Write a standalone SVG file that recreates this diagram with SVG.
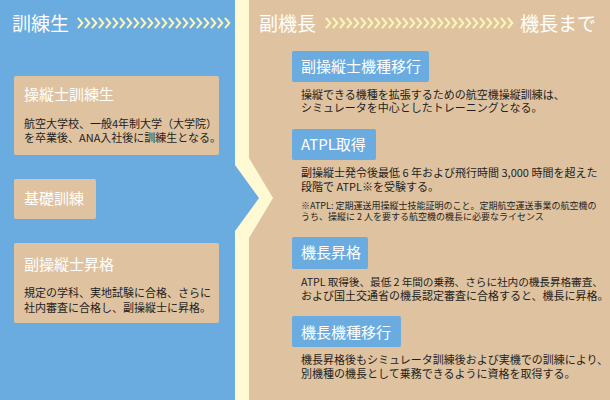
<svg xmlns="http://www.w3.org/2000/svg" width="610" height="400" viewBox="0 0 610 400">
<defs>
<style>
.hd{font-family:"Noto Sans CJK JP","Noto Sans",sans-serif;font-size:19px;fill:#ffffff}
.tt{font-family:"Noto Sans CJK JP","Noto Sans",sans-serif;font-size:15px;fill:#ffffff}
.bd{font-family:"Noto Sans CJK JP","Noto Sans",sans-serif;font-size:11px;fill:#1e1e1e}
.nt{font-family:"Noto Sans CJK JP","Noto Sans",sans-serif;font-size:9px;fill:#1e1e1e}
.tan{fill:#dfc3a0}
.blu{fill:#6aacdf}
</style>
<pattern id="chevL" patternUnits="userSpaceOnUse" x="77" y="17" width="7" height="12">
<polyline points="0.9,0.9 5.3,6 0.9,11.1" fill="none" stroke="#fff5b8" stroke-width="2"/>
</pattern>
<pattern id="chevR" patternUnits="userSpaceOnUse" x="325" y="17" width="7" height="12">
<polyline points="0.9,0.9 5.3,6 0.9,11.1" fill="none" stroke="#fff5b8" stroke-width="2"/>
</pattern>
</defs>
<g id="background">
<rect x="0" y="0" width="610" height="400" fill="#dfc3a0"/>
<path d="M0,0 H249 V158 L273,198 L249,238 V400 H0 Z" fill="#fffad4"/>
<path d="M0,0 H235 V165 L259,198 L235,231 V400 H0 Z" fill="#6aacdf"/>
</g>
<g id="header">
<text class="hd" x="12" y="31">訓練生</text>
<rect x="77" y="17" width="154" height="12" fill="url(#chevL)"/>
<text class="hd" x="259" y="31">副機長</text>
<rect x="325" y="17" width="189" height="12" fill="url(#chevR)"/>
<text class="hd" x="520" y="31">機長まで</text>
</g>
<g id="node-trainee">
<rect class="tan" x="14" y="76" width="205" height="79" rx="2"/>
<text class="tt" x="24" y="100">操縦士訓練生</text>
<text class="bd"><tspan x="24" y="128">航空大学校、一般4年制大学（大学院）</tspan><tspan x="24" y="142">を卒業後、ANA入社後に訓練生となる。</tspan></text>
</g>
<g id="node-basic">
<rect class="tan" x="14" y="179" width="82" height="40" rx="2"/>
<text class="tt" x="24" y="204">基礎訓練</text>
</g>
<g id="node-fo-promotion">
<rect class="tan" x="14" y="243" width="205" height="80" rx="2"/>
<text class="tt" x="24" y="270">副操縦士昇格</text>
<text class="bd"><tspan x="24" y="297">規定の学科、実地試験に合格、さらに</tspan><tspan x="24" y="312">社内審査に合格し、副操縦士に昇格。</tspan></text>
</g>
<g id="node-fo-type">
<rect class="blu" x="292" y="51" width="137" height="31" rx="2"/>
<text class="tt" x="301" y="72">副操縦士機種移行</text>
<text class="bd"><tspan x="301" y="99">操縦できる機種を拡張するための航空機操縦訓練は、</tspan><tspan x="301" y="112">シミュレータを中心としたトレーニングとなる。</tspan></text>
</g>
<g id="node-atpl">
<rect class="blu" x="292" y="129" width="84" height="31" rx="2"/>
<text class="tt" x="301" y="150">ATPL取得</text>
<text class="bd"><tspan x="301" y="177">副操縦士発令後最低 6 年および飛行時間 3,000 時間を超えた</tspan><tspan x="301" y="191">段階で ATPL※を受験する。</tspan></text>
<text class="nt"><tspan x="301" y="209">※ATPL: 定期運送用操縦士技能証明のこと。定期航空運送事業の航空機の</tspan><tspan x="301" y="220">うち、操縦に 2 人を要する航空機の機長に必要なライセンス</tspan></text>
</g>
<g id="node-captain">
<rect class="blu" x="292" y="237" width="76" height="32" rx="2"/>
<text class="tt" x="301" y="258">機長昇格</text>
<text class="bd"><tspan x="301" y="286" style="font-size:10.7px" textLength="302" lengthAdjust="spacing">ATPL 取得後、最低 2 年間の乗務、さらに社内の機長昇格審査、</tspan><tspan x="301" y="300">および国土交通省の機長認定審査に合格すると、機長に昇格。</tspan></text>
</g>
<g id="node-captain-type">
<rect class="blu" x="292" y="316" width="109" height="31" rx="2"/>
<text class="tt" x="301" y="338">機長機種移行</text>
<text class="bd"><tspan x="301" y="364">機長昇格後もシミュレータ訓練後および実機での訓練により、</tspan><tspan x="301" y="378">別機種の機長として乗務できるように資格を取得する。</tspan></text>
</g>
<g id="connectors"/>
</svg>
